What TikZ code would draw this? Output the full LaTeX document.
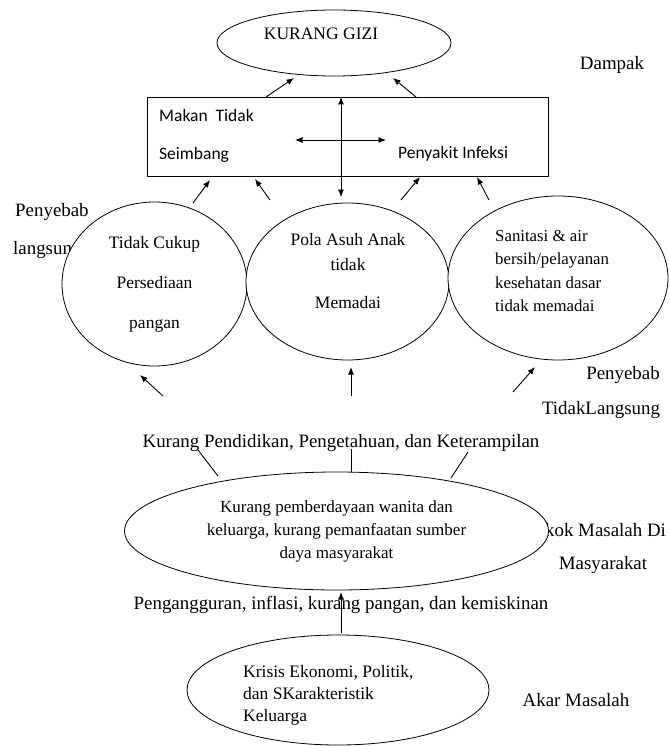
\documentclass[tikz,border=0pt]{standalone}
\usepackage{fontspec}
\setmainfont{Liberation Serif}
\newfontfamily\boxfont{Carlito}
\usetikzlibrary{shapes.geometric}
\usetikzlibrary{arrows.meta}

\tikzset{
  txt/.style={font=\fontsize{17.5}{21}\selectfont, inner sep=0pt},
  sidetxt/.style={font=\fontsize{18.9}{22}\selectfont, inner sep=0pt},
  boxtxt/.style={font=\boxfont\fontsize{17.5}{20}\selectfont, inner sep=0pt, anchor=west},
  oval/.style={draw, ellipse, fill=white, inner sep=0pt, line width=0.8pt},
  arr/.style={-{Latex[length=7.5pt,width=6pt]}, line width=0.9pt},
  darr/.style={{Latex[length=7.5pt,width=6pt]}-{Latex[length=7.5pt,width=6pt]}, line width=0.9pt},
}

\begin{document}
\begin{tikzpicture}[x=1pt, y=-1pt]
    \useasboundingbox (0,0) rectangle (669,746);
    % side labels
    \node[sidetxt] (dampak) at (612,65) {Dampak};
    \node[sidetxt, anchor=west] (pyb1) at (15,212) {Penyebab};
    \node[sidetxt, anchor=west] (lgs) at (13,250) {langsung};
    \node[sidetxt] (pyb2) at (623,375) {Penyebab};
    \node[sidetxt] (tlgs) at (601,410) {TidakLangsung};
    \node[sidetxt, anchor=west] (pokok) at (525,530) {Pokok Masalah Di};
    \node[sidetxt] (masy) at (603,565) {Masyarakat};
    \node[sidetxt] (akar) at (576,700) {Akar Masalah};

    % impact
    \node[oval, minimum width=234pt, minimum height=66pt] (gizi) at (334,43) {};
    \node[txt] (gizitxt) at (321,34) {KURANG GIZI};

    \node[draw, line width=0.9pt, minimum width=401pt, minimum height=79pt, inner sep=0pt] (box) at (347.5,136.5) {};
    \node[boxtxt] (makan) at (159,115) {Makan\ \ Tidak};
    \node[boxtxt] (seimb) at (159,155) {Seimbang};
    \node[boxtxt] (infeksi) at (398,154) {Penyakit Infeksi};

    % direct causes
    \node[oval, minimum width=185pt, minimum height=164pt, align=center,
          font=\fontsize{17.5}{40}\selectfont] (circ1) at (154.5,284) {Tidak Cukup\\Persediaan\\pangan};
    \node[oval, minimum width=203pt, minimum height=157pt] (circ2) at (347.5,281.5) {};
    \node[oval, minimum width=220pt, minimum height=164pt] (circ3) at (558,278) {};
    \node[txt, align=center, font=\fontsize{17.5}{25}\selectfont] (pola) at (348,271) {Pola Asuh Anak\\tidak\\[13pt]Memadai};
    \node[txt, anchor=west, align=left, font=\fontsize{16.8}{23.3}\selectfont] (sanit) at (495,271) {Sanitasi \& air\\bersih/pelayanan\\kesehatan dasar\\tidak memadai};

    % indirect causes
    \node[sidetxt] (didik) at (341,443) {Kurang Pendidikan, Pengetahuan, dan Keterampilan};
    \node[oval, minimum width=424pt, minimum height=118pt, align=center,
          font=\fontsize{17}{23}\selectfont] (berdaya) at (336.5,531) {Kurang pemberdayaan wanita dan\\keluarga, kurang pemanfaatan sumber\\daya masyarakat};
    \node[sidetxt] (nganggur) at (341,605) {Pengangguran, inflasi, kurang pangan, dan kemiskinan};
    \node[oval, minimum width=302pt, minimum height=110pt] (krisis) at (338,690) {};
    \node[txt, anchor=west, align=left, font=\fontsize{17.5}{22}\selectfont] (krisistxt) at (243,695) {Krisis Ekonomi, Politik,\\dan SKarakteristik\\Keluarga};

    % arrow ends
    \coordinate (a1) at (266,97);  \coordinate (b1) at (294,78);
    \coordinate (a2) at (416,97);  \coordinate (b2) at (393,78);
    \coordinate (a3) at (193,203); \coordinate (b3) at (210,180);
    \coordinate (a4) at (270,200); \coordinate (b4) at (255,179);
    \coordinate (a5) at (401,200); \coordinate (b5) at (420,177);
    \coordinate (a6) at (489,200); \coordinate (b6) at (477,177);
    \coordinate (a7) at (163,396); \coordinate (b7) at (140,375);
    \coordinate (a8) at (351,396); \coordinate (b8) at (351,367);
    \coordinate (a9) at (513,392); \coordinate (b9) at (535,367);
    \coordinate (a10) at (341,633); \coordinate (b10) at (341,592);
    \coordinate (vt) at (341,97);  \coordinate (vb) at (341,197);
    \coordinate (hl) at (295,140); \coordinate (hr) at (386,140);
    \coordinate (l1) at (198,450); \coordinate (m1) at (218,476);
    \coordinate (l2) at (351,449); \coordinate (m2) at (351,472);
    \coordinate (l3) at (468,452); \coordinate (m3) at (451,478);

    \foreach \s/\t in {a1/b1, a2/b2, a3/b3, a4/b4, a5/b5, a6/b6, a7/b7, a8/b8, a9/b9, a10/b10}
        \draw[arr] (\s) -- (\t);
    \draw[darr] (vt) -- (vb);
    \draw[darr] (hl) -- (hr);
    \foreach \s/\t in {l1/m1, l2/m2, l3/m3}
        \draw[line width=0.9pt] (\s) -- (\t);
\end{tikzpicture}
\end{document}
